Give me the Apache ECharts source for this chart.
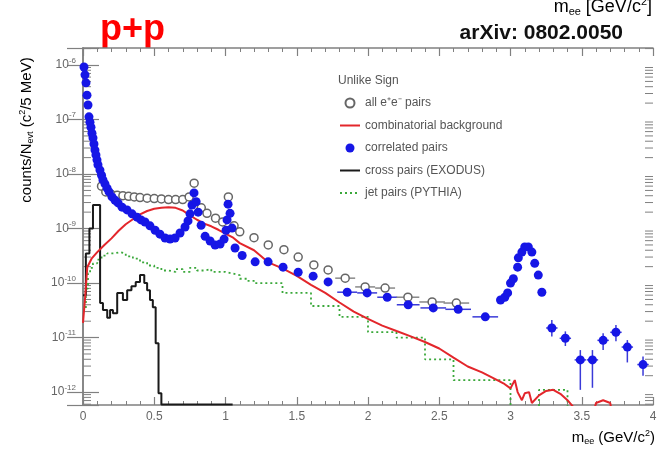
<!DOCTYPE html>
<html><head><meta charset="utf-8">
<script src="https://cdn.jsdelivr.net/npm/echarts@6/dist/echarts.min.js"></script>
<style>html,body{margin:0;padding:0;background:#fff}#c{width:658px;height:451px}</style>
</head><body><div id="c"></div>
<script>
// ---- data ----
const xTicks = [0, 0.5, 1, 1.5, 2, 2.5, 3, 3.5, 4];
const yDecades = [-12, -11, -10, -9, -8, -7, -6];

// correlated pairs (blue filled)
const corrX = [0.007,0.014,0.021,0.028,0.035,0.042,0.049,0.056,0.063,0.070,0.077,0.084,0.091,0.098,0.105,0.119,0.130,0.140,0.154,0.169,0.183,0.204,0.225,0.246,0.274,0.309,0.344,0.379,0.407,0.435,0.47,0.506,0.54,0.576,0.611,0.646,0.681,0.716,0.737,0.751,0.765,0.779,0.794,0.808,0.829,0.857,0.892,0.927,0.962,0.990,1.004,1.011,1.018,1.032,1.046,1.067,1.117,1.208,1.299,1.404,1.51,1.615,1.72,1.854,1.994,2.135,2.282,2.458,2.633,2.823,2.93,2.96,2.98,3.0,3.02,3.05,3.055,3.08,3.1,3.125,3.15,3.17,3.195,3.22,3.29,3.385,3.49,3.575,3.65,3.74,3.82,3.93];
const corrY = [9.2e-7,6.6e-7,4.7e-7,2.8e-7,1.85e-7,1.12e-7,8.9e-8,7.2e-8,5.6e-8,4.6e-8,3.55e-8,2.75e-8,2.24e-8,1.82e-8,1.48e-8,1.18e-8,9.5e-9,7.8e-9,6.6e-9,5.5e-9,4.7e-9,3.8e-9,3.3e-9,2.95e-9,2.47e-9,2.2e-9,1.86e-9,1.62e-9,1.44e-9,1.32e-9,1.12e-9,9.3e-10,7.9e-10,6.7e-10,6.4e-10,6.7e-10,8.3e-10,1.07e-9,1.38e-9,1.86e-9,2.7e-9,4.5e-9,3.1e-9,2.0e-9,1.15e-9,7.2e-10,5.9e-10,5.0e-10,5.2e-10,6.4e-10,9.3e-10,1.44e-9,2.8e-9,1.9e-9,1.02e-9,4.4e-10,3.2e-10,2.45e-10,2.45e-10,1.96e-10,1.58e-10,1.34e-10,1.05e-10,6.8e-11,6.6e-11,5.5e-11,4.0e-11,3.5e-11,3.3e-11,2.4e-11,4.9e-11,5.5e-11,6.6e-11,1.0e-10,1.2e-10,1.96e-10,2.9e-10,3.7e-10,4.6e-10,4.6e-10,3.7e-10,2.3e-10,1.4e-10,6.8e-11,1.5e-11,9.7e-12,3.9e-12,3.9e-12,8.9e-12,1.25e-11,6.7e-12,3.2e-12];
// errors for the high-mass correlated points
const corrErrX = [1.854,1.994,2.135,2.282,2.458,2.633,2.823,3.29,3.385,3.49,3.575,3.65,3.74,3.82,3.93];
const corrErrY = [6.8e-11,6.6e-11,5.5e-11,4.0e-11,3.5e-11,3.3e-11,2.4e-11,1.5e-11,9.7e-12,3.9e-12,3.9e-12,8.9e-12,1.25e-11,6.7e-12,3.2e-12];
const corrErrHalfW = [0.07,0.07,0.07,0.08,0.09,0.09,0.09,0.04,0.04,0.04,0.04,0.04,0.04,0.04,0.04];
const corrErrLo = [0,0,0,0,0,0,0,1.05e-11,7.0e-12,1.1e-12,1.2e-12,5.9e-12,8.6e-12,3.5e-12,2.0e-12];
const corrErrHi = [0,0,0,0,0,0,0,2.1e-11,1.3e-11,5.9e-12,5.9e-12,1.2e-11,1.7e-11,9.0e-12,4.5e-12];

// all e+e- pairs (open circles)
const allX = [0.13,0.16,0.2,0.24,0.28,0.32,0.36,0.40,0.45,0.5,0.55,0.6,0.65,0.7,0.745,0.78,0.83,0.87,0.93,0.98,1.02,1.06,1.10,1.20,1.30,1.41,1.51,1.62,1.72,1.84,1.98,2.12,2.28,2.45,2.62];
const allY = [6.0e-9,4.7e-9,4.2e-9,4.1e-9,4.0e-9,3.9e-9,3.8e-9,3.7e-9,3.6e-9,3.55e-9,3.5e-9,3.4e-9,3.4e-9,3.4e-9,3.8e-9,6.8e-9,2.4e-9,1.9e-9,1.55e-9,1.32e-9,3.8e-9,1.12e-9,8.7e-10,6.8e-10,5.0e-10,4.1e-10,3.0e-10,2.15e-10,1.74e-10,1.23e-10,8.5e-11,8.1e-11,5.5e-11,4.5e-11,4.3e-11];
const allErrHalfW = [0,0,0,0,0,0,0,0,0,0,0,0,0,0,0,0,0,0,0,0,0,0,0,0,0,0,0,0,0,0.07,0.07,0.07,0.08,0.09,0.09];

// combinatorial background (red)
const combX = [0,0.015,0.03,0.06,0.1,0.15,0.2,0.25,0.3,0.35,0.4,0.45,0.5,0.55,0.6,0.65,0.7,0.75,0.8,0.85,0.9,0.95,1.0,1.05,1.1,1.2,1.3,1.4,1.5,1.6,1.7,1.8,1.9,2.0,2.1,2.2,2.3,2.4,2.5,2.6,2.7,2.8,2.9,2.95,3.0,3.03,3.05,3.08,3.1,3.13,3.15,3.2,3.25,3.3,3.35,3.4,3.45,3.52,3.6,3.65,3.7,3.75];
const combY = [1.86e-11,5.5e-11,1.95e-10,2.8e-10,3.7e-10,5.0e-10,6.6e-10,9.1e-10,1.2e-9,1.48e-9,1.82e-9,2.1e-9,2.3e-9,2.4e-9,2.45e-9,2.4e-9,2.14e-9,1.74e-9,1.45e-9,1.23e-9,1.1e-9,9.5e-10,8.1e-10,6.9e-10,5.4e-10,4.0e-10,2.4e-10,1.86e-10,1.35e-10,9.3e-11,6.6e-11,4.4e-11,3.0e-11,2.2e-11,1.66e-11,1.32e-11,1.05e-11,8.3e-12,6.3e-12,4.3e-12,2.95e-12,2.3e-12,1.7e-12,1.45e-12,1.17e-12,1.66e-12,1.0e-12,7.1e-13,9.5e-13,1.0e-12,6.3e-13,8.7e-13,1.05e-12,1.1e-12,9.3e-13,7.1e-13,5e-13,1e-13,6.3e-13,7.1e-13,6.3e-13,1e-13];

// cross pairs EXODUS (black histogram, left bin edges)
const crossX = [0,0.02,0.045,0.07,0.12,0.14,0.17,0.19,0.21,0.24,0.28,0.31,0.34,0.37,0.40,0.43,0.45,0.47,0.49,0.51,0.53,0.55,1.05];
const crossY = [6e-11,3.5e-10,1.0e-9,2.7e-9,4.3e-11,3.2e-11,2.3e-11,3.2e-11,2.8e-11,6.6e-11,4.9e-11,7.4e-11,8.7e-11,1.05e-10,1.4e-10,1.0e-10,7.4e-11,4.9e-11,3.6e-11,7.9e-12,9.5e-13,5.9e-13,5.9e-13];

// jet pairs PYTHIA (green histogram, left bin edges)
const jetX = [0,0.02,0.035,0.05,0.07,0.1,0.13,0.17,0.22,0.26,0.3,0.35,0.4,0.45,0.5,0.55,0.6,0.65,0.7,0.75,0.8,0.85,0.9,0.95,1.0,1.05,1.1,1.15,1.2,1.4,1.6,1.8,2.0,2.2,2.4,2.6,3.0,3.2,3.4,3.6];
const jetY = [3.2e-11,7.9e-11,1.5e-10,1.9e-10,2.3e-10,2.7e-10,3.2e-10,3.5e-10,3.7e-10,3.5e-10,3.1e-10,2.8e-10,2.4e-10,2.1e-10,1.9e-10,1.7e-10,1.6e-10,1.8e-10,1.6e-10,1.9e-10,1.7e-10,1.8e-10,1.6e-10,1.6e-10,1.5e-10,1.4e-10,1.2e-10,1.1e-10,1.0e-10,6.6e-11,3.8e-11,2.4e-11,1.26e-11,1.0e-11,4.0e-12,1.66e-12,3e-14,1.1e-12,3e-14,3e-14];

const Y_MIN = 5.8e-13, Y_MAX = 2.05e-6;

// ---- build ----
const zip = (a, b) => a.map((v, i) => [v, b[i]]);
const minorVals = [];
for (let d = -13; d <= -6; d++) for (let k = 2; k <= 9; k++) {
  const v = k * Math.pow(10, d);
  if (v > Y_MIN && v < Y_MAX) minorVals.push([0, v]);
}
const errData = [];
corrErrX.forEach((x, i) => errData.push([x, corrErrY[i], corrErrHalfW[i], corrErrLo[i], corrErrHi[i], 1]));
allX.forEach((x, i) => { if (allErrHalfW[i] > 0) errData.push([x, allY[i], allErrHalfW[i], 0, 0, 0]); });

const AX = '#808080', LBL = '#666';
const chart = echarts.init(document.getElementById('c'), null, {renderer: 'canvas'});
const yLabel = v => {
  const e = Math.log10(v), r = Math.round(e);
  if (Math.abs(e - r) > 1e-6 || yDecades.indexOf(r) < 0) return '';
  return '{b|10}{s|' + r + '}';
};
const xAxisBase = {
  type: 'value', min: 0, max: 4, interval: 0.5,
  axisLine: {show: true, lineStyle: {color: AX, width: 1.5}},
  axisTick: {show: true, inside: true, length: 8, lineStyle: {color: AX, width: 1.2}},
  minorTick: {show: true, splitNumber: 5, length: 4, lineStyle: {color: AX, width: 1}},
  splitLine: {show: false}, minorSplitLine: {show: false}
};
const yAxisBase = {
  type: 'log', logBase: 10, min: Y_MIN, max: Y_MAX,
  axisLine: {show: true, lineStyle: {color: AX, width: 1.5}},
  axisTick: {show: true, inside: true, length: 16, lineStyle: {color: AX, width: 1.2}},
  splitLine: {show: false}
};
const hideSym = {opacity: 0};
chart.setOption({
  animation: false,
  backgroundColor: '#fff',
  grid: {left: 83, right: 5, top: 48, bottom: 46, containLabel: false, outerBoundsMode: 'none'},
  xAxis: [
    Object.assign({}, xAxisBase, {position: 'bottom',
      axisLabel: {show: true, color: LBL, fontSize: 12, fontFamily: 'Arial', margin: 6,
        formatter: v => xTicks.indexOf(v) >= 0 ? String(v) : ''}}),
    Object.assign({}, xAxisBase, {position: 'top', axisLabel: {show: false}})
  ],
  yAxis: [
    Object.assign({}, yAxisBase, {position: 'left',
      axisLabel: {show: true, color: LBL, fontFamily: 'Arial', margin: 7, formatter: yLabel,
        rich: {b: {fontSize: 12, color: LBL, fontFamily: 'Arial'},
               s: {fontSize: 8, color: LBL, fontFamily: 'Arial', padding: [0, 0, 9, 0]}}}}),
    Object.assign({}, yAxisBase, {position: 'right', axisLabel: {show: false}})
  ],
  legend: {
    orient: 'vertical', left: 339, top: 96, padding: 0, itemWidth: 20, itemHeight: 9, itemGap: 8.5,
    textStyle: {fontSize: 12, color: '#555', fontFamily: 'Arial', lineHeight: 14},
    data: [
      {name: 'all e\u207Ae\u207B pairs'},
      {name: 'combinatorial background', itemStyle: hideSym},
      {name: 'correlated pairs'},
      {name: 'cross pairs (EXODUS)', itemStyle: hideSym},
      {name: 'jet pairs (PYTHIA)', itemStyle: hideSym}
    ]
  },
  graphic: [
    {type: 'text', left: 338, top: 75, style: {text: 'Unlike Sign', font: '12px Arial', fill: '#555'}},
    {type: 'text', x: 100, y: 30, style: {text: 'p+p', font: 'bold 36px Arial', fill: '#ff0000', verticalAlign: 'middle'}},
    {type: 'text', x: 623, y: 33, style: {text: 'arXiv: 0802.0050', font: 'bold 21px Arial', fill: '#111', align: 'right', verticalAlign: 'middle'}},
    {type: 'text', x: 652, y: 7, style: {
      text: '{a|m}{sub|ee}{a| [GeV/c}{sup|2}{a|]}', align: 'right', verticalAlign: 'middle',
      rich: {a: {fontSize: 18, fontFamily: 'Arial', color: '#333'},
             sub: {fontSize: 11, fontFamily: 'Arial', color: '#333', padding: [10, 0, 0, 0]},
             sup: {fontSize: 11, fontFamily: 'Arial', color: '#333', padding: [0, 0, 10, 0]}}}},
    {type: 'text', x: 655, y: 438, style: {
      text: '{a|m}{sub|ee}{a| (GeV/c}{sup|2}{a|)}', align: 'right', verticalAlign: 'middle',
      rich: {a: {fontSize: 15, fontFamily: 'Arial', color: '#555'},
             sub: {fontSize: 9, fontFamily: 'Arial', color: '#555', padding: [8, 0, 0, 0]},
             sup: {fontSize: 9, fontFamily: 'Arial', color: '#555', padding: [0, 0, 8, 0]}}}},
    {type: 'text', x: 27, y: 130, rotation: Math.PI / 2, style: {
      text: '{a|counts/N}{sub|evt}{a| (c}{sup|2}{a|/5 MeV)}', align: 'center', verticalAlign: 'middle',
      rich: {a: {fontSize: 15, fontFamily: 'Arial', color: '#555'},
             sub: {fontSize: 9, fontFamily: 'Arial', color: '#555', padding: [8, 0, 0, 0]},
             sup: {fontSize: 9, fontFamily: 'Arial', color: '#555', padding: [0, 0, 8, 0]}}}}
  ],
  series: [
    {type: 'custom', name: 'minorTicks', silent: true, z: 1, xAxisIndex: 0, yAxisIndex: 0,
     encode: {x: 0, y: 1}, data: minorVals,
     renderItem: (params, api) => {
       const p = api.coord([0, api.value(1)]), q = api.coord([4, api.value(1)]);
       const st = {stroke: AX, lineWidth: 1};
       return {type: 'group', children: [
         {type: 'line', shape: {x1: p[0], y1: p[1], x2: p[0] + 8, y2: p[1]}, style: st},
         {type: 'line', shape: {x1: q[0] - 8, y1: q[1], x2: q[0], y2: q[1]}, style: st}]};
     }},
    {name: 'jet pairs (PYTHIA)', type: 'line', step: 'end', data: zip(jetX, jetY), symbol: 'none', z: 2,
     lineStyle: {color: '#3aa83a', width: 1.8, type: [2, 3]}, itemStyle: {color: '#3aa83a'}},
    {name: 'cross pairs (EXODUS)', type: 'line', step: 'end', data: zip(crossX, crossY), symbol: 'none', z: 2,
     lineStyle: {color: '#1a1a1a', width: 2}, itemStyle: {color: '#1a1a1a'}},
    {name: 'combinatorial background', type: 'line', data: zip(combX, combY), symbol: 'none', z: 3,
     lineStyle: {color: '#e3262b', width: 2}, itemStyle: {color: '#e3262b'}},
    {type: 'custom', name: 'errors', silent: true, z: 4, encode: {x: 0, y: 1}, data: errData,
     renderItem: (params, api) => {
       const x = api.value(0), y = api.value(1), hw = api.value(2), lo = api.value(3), hi = api.value(4);
       const col = api.value(5) === 1 ? '#3a3ad8' : '#888';
       const ch = [];
       if (hw > 0) {
         const a = api.coord([x - hw, y]), b = api.coord([x + hw, y]);
         ch.push({type: 'line', shape: {x1: a[0], y1: a[1], x2: b[0], y2: b[1]}, style: {stroke: col, lineWidth: 1.5}});
       }
       if (lo > 0) {
         const a = api.coord([x, lo]), b = api.coord([x, hi]);
         ch.push({type: 'line', shape: {x1: a[0], y1: a[1], x2: b[0], y2: b[1]}, style: {stroke: col, lineWidth: 1.5}});
       }
       return {type: 'group', children: ch};
     }},
    {name: 'all e\u207Ae\u207B pairs', type: 'scatter', data: zip(allX, allY), symbol: 'circle', symbolSize: 8, z: 5,
     itemStyle: {color: '#fff', borderColor: '#666', borderWidth: 1.5, opacity: 1}},
    {name: 'correlated pairs', type: 'scatter', data: zip(corrX, corrY), symbol: 'circle', symbolSize: 9, z: 6,
     itemStyle: {color: '#1616e6', opacity: 1}}
  ]
});
</script></body></html>
